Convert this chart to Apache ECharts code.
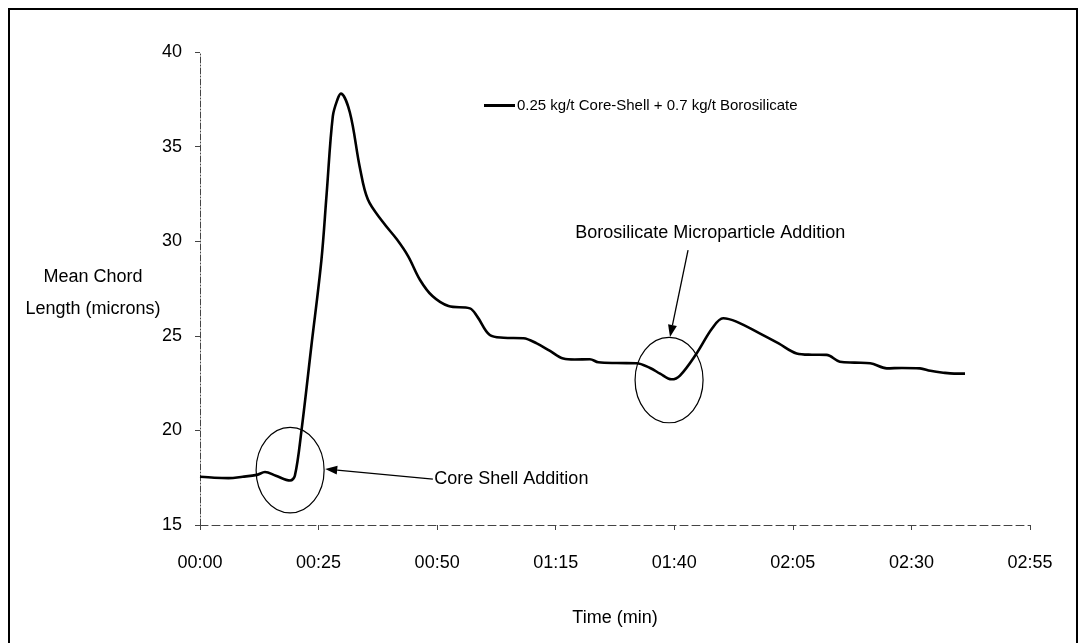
<!DOCTYPE html>
<html><head><meta charset="utf-8">
<script src="https://cdn.jsdelivr.net/npm/echarts@6/dist/echarts.min.js"></script>
<style>html,body{margin:0;padding:0;background:#fff}#c{width:1079px;height:643px}</style>
</head><body><div id="c"></div>
<script>
const seriesName = '0.25 kg/t Core-Shell + 0.7 kg/t Borosilicate';
const timeMin = [0, 3, 6, 9, 12, 13.7, 16, 19, 20, 21.4, 23.5, 25.6, 26.7, 28, 29, 29.7, 31.6, 33.7, 35.4, 38.6, 41.5, 43.9, 46.4, 49, 52.4, 56.9, 58.5, 61.1, 64, 68.2, 71, 73.8, 76.6, 79, 82.2, 84, 87.9, 92, 94.9, 97, 99.4, 101.2, 104.7, 108, 110.3, 113.1, 118, 122, 125.8, 129, 132.1, 134.9, 138, 141.3, 144.8, 148, 151.8, 154, 156.7, 159, 161.3];
const chordLen = [17.55, 17.5, 17.48, 17.55, 17.65, 17.8, 17.6, 17.35, 17.6, 20.0, 24.5, 29.0, 32.5, 36.6, 37.5, 37.8, 36.8, 33.9, 32.2, 31.0, 30.1, 29.2, 27.95, 27.1, 26.57, 26.45, 26.0, 25.04, 24.9, 24.87, 24.6, 24.2, 23.8, 23.75, 23.76, 23.6, 23.56, 23.55, 23.3, 23.0, 22.7, 22.9, 24.07, 25.4, 25.93, 25.75, 25.13, 24.6, 24.07, 24.0, 23.99, 23.63, 23.58, 23.55, 23.28, 23.3, 23.28, 23.15, 23.05, 23.0, 23.0];
const xTickLabels = ['00:00', '00:25', '00:50', '01:15', '01:40', '02:05', '02:30', '02:55'];
const yTickLabels = ['15', '20', '25', '30', '35', '40'];
const annotations = [
  { text: 'Core Shell Addition', textAt: [49.4, 17.43], arrowFrom: [49.1, 17.43], arrowTo: [26.4, 17.96], circleAt: [19.0, 17.9] },
  { text: 'Borosilicate Microparticle Addition', textAt: [79.1, 30.43], arrowFrom: [102.9, 29.53], arrowTo: [99.1, 24.94], circleAt: [98.9, 22.66] }
];

const font = '"Liberation Sans", Arial, sans-serif';
const chart = echarts.init(document.getElementById('c'), null, { renderer: 'canvas' });
const data = timeMin.map((t, i) => [t, chordLen[i]]);

chart.setOption({
  animation: false,
  backgroundColor: '#fff',
  textStyle: { fontFamily: font, color: '#000' },
  grid: { left: 200, right: 49, top: 52, bottom: 118, containLabel: false },
  legend: {
    left: 479, top: 93, itemWidth: 31, itemHeight: 3, itemGap: 4,
    data: [{ name: seriesName, icon: 'rect' }],
    textStyle: { fontFamily: font, fontSize: 15, color: '#000', padding: [0, 0, 0, -3] },
    selectedMode: false
  },
  xAxis: {
    type: 'value', min: 0, max: 175, interval: 25,
    name: 'Time (min)', nameLocation: 'middle', nameGap: 84,
    nameTextStyle: { fontFamily: font, fontSize: 18, color: '#000' },
    axisLine: { lineStyle: { color: '#444', width: 1, type: [8, 4] } },
    axisTick: { show: true, length: 5, lineStyle: { color: '#444' } },
    axisLabel: { fontFamily: font, fontSize: 18, color: '#000', margin: 29,
      formatter: v => xTickLabels[Math.round(v / 25)] },
    splitLine: { show: false }
  },
  yAxis: {
    type: 'value', min: 15, max: 40, interval: 5,
    axisLine: { show: true, lineStyle: { color: '#444', width: 1, type: [6, 2, 1, 2] } },
    axisTick: { show: true, length: 5, lineStyle: { color: '#444' } },
    axisLabel: { fontFamily: font, fontSize: 18, color: '#000', margin: 18,
      formatter: v => yTickLabels[Math.round((v - 15) / 5)] },
    splitLine: { show: false }
  },
  series: [{
    name: seriesName, type: 'line', data: data, smooth: 0.35,
    showSymbol: false, symbol: 'none',
    lineStyle: { color: '#000', width: 2.6 },
    itemStyle: { color: '#000' }
  }]
});

function drawGraphics() {
  const els = [{
    type: 'rect', shape: { x: 9, y: 9, width: 1068, height: 720 },
    style: { fill: 'none', stroke: '#000', lineWidth: 2 }, silent: true
  }, {
    type: 'text', x: 93, y: 261,
    style: { text: 'Mean Chord\nLength (microns)', font: '18px ' + font, fill: '#000', align: 'center', lineHeight: 32 },
    silent: true
  }];
  annotations.forEach(a => {
    const c = chart.convertToPixel({ gridIndex: 0 }, a.circleAt);
    els.push({ type: 'ellipse', shape: { cx: c[0], cy: c[1], rx: 34, ry: 42.7 },
      style: { fill: 'none', stroke: '#000', lineWidth: 1.2 }, silent: true });
    const p = chart.convertToPixel({ gridIndex: 0 }, a.textAt);
    els.push({ type: 'text', x: p[0], y: p[1],
      style: { text: a.text, font: '18px ' + font, fill: '#000', verticalAlign: 'middle', align: 'left' }, silent: true });
    const f = chart.convertToPixel({ gridIndex: 0 }, a.arrowFrom);
    const t = chart.convertToPixel({ gridIndex: 0 }, a.arrowTo);
    const dx = t[0] - f[0], dy = t[1] - f[1], L = Math.hypot(dx, dy);
    const ux = dx / L, uy = dy / L, hl = 12, hw = 4.5;
    const bx = t[0] - ux * hl, by = t[1] - uy * hl;
    els.push({ type: 'line', shape: { x1: f[0], y1: f[1], x2: bx, y2: by },
      style: { stroke: '#000', lineWidth: 1.3 }, silent: true });
    els.push({ type: 'polygon', shape: { points: [[t[0], t[1]], [bx - uy * hw, by + ux * hw], [bx + uy * hw, by - ux * hw]] },
      style: { fill: '#000' }, silent: true });
  });
  chart.setOption({ graphic: { elements: els } });
}
drawGraphics();
</script>
</body></html>
